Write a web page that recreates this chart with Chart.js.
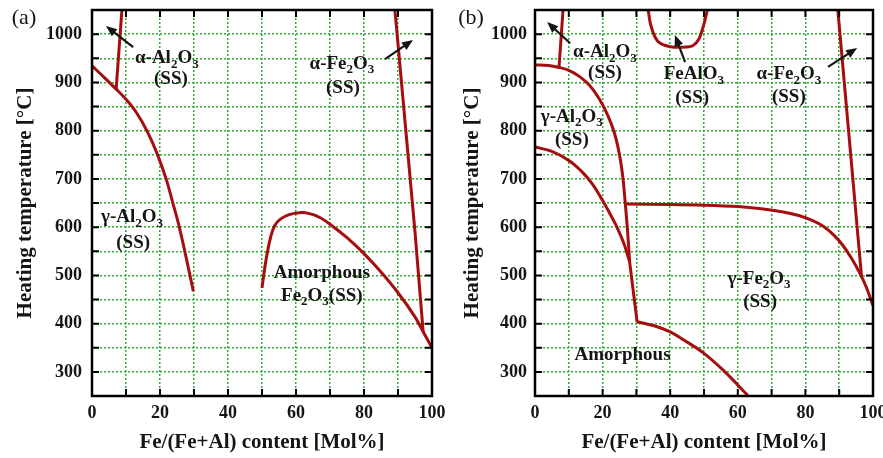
<!DOCTYPE html>
<html>
<head>
<meta charset="utf-8">
<script src="https://cdn.jsdelivr.net/npm/chart.js@4.4.0/dist/chart.umd.min.js"></script>
<style>
  html, body { margin: 0; padding: 0; background: #fff; }
  #wrap { position: relative; width: 883px; height: 458px; overflow: hidden; }
  canvas { position: absolute; top: 0; }
</style>
</head>
<body>
<div id="wrap">
  <canvas id="chartA" width="462" height="458" style="left:0"></canvas>
  <canvas id="chartB" width="442" height="458" style="left:441px"></canvas>
</div>
<script>
// tick labels
var xTickLabels = [0, 20, 40, 60, 80, 100];
var yTickLabels = [300, 400, 500, 600, 700, 800, 900, 1000];

// ---- panel (a) phase boundaries: Fe content [mol%] / temperature [C]
var aGammaAlX = [0, 3.5, 7.1, 10, 13, 16.2, 19, 21.8, 23.7, 25.5, 27.6, 29.8];
var aGammaAlT = [934, 911, 886, 865, 838, 799, 755, 700, 652, 605, 540, 467];
var aAlphaAlX = [7.1, 8.8];
var aAlphaAlT = [886, 1050];
var aDomeX = [50, 50.7, 51.5, 52.5, 53.7, 55.5, 58, 61, 64, 67, 70, 75, 80, 85, 90, 95, 97.4, 100];
var aDomeT = [474, 510, 545, 578, 603, 617, 626, 630, 628, 620, 606, 578, 545, 507, 464, 414, 383, 350];
var aAlphaFeX = [89.1, 95, 97.4];
var aAlphaFeT = [1050, 590, 383];

// ---- panel (b)
var bUpperX = [0, 4, 7.1, 10, 13, 16, 19, 21.5, 23.5, 25, 26, 26.7, 27.3, 28];
var bUpperT = [936, 935, 931, 925, 913, 895, 866, 832, 795, 750, 703, 650, 600, 528];
var bLowerX = [0, 5, 10, 14, 17, 20, 22.3, 24.3, 26.3, 28];
var bLowerT = [766, 757, 738, 714, 689, 655, 626, 599, 566, 528];
var bDropX = [28, 30.2];
var bDropT = [528, 404];
var bAmorphX = [30.2, 35, 40, 43.8, 49.7, 55.6, 62.7, 63.3];
var bAmorphT = [404, 396, 383, 367, 340, 304, 253, 248];
var bPlateauX = [26.7, 40, 50, 60, 67, 73, 78, 82, 85.5, 88.5, 91, 93.5, 96, 98, 100];
var bPlateauT = [648, 647, 645.5, 642.5, 638, 632, 624, 614, 601, 583, 563, 537, 506, 476, 437];
var bAlphaFeX = [89.6, 96.6];
var bAlphaFeT = [1050, 498];
var bAlphaAlX = [7.1, 8.3];
var bAlphaAlT = [931, 1050];
var bFeAlX = [33.5, 34.2, 35.5, 37, 40, 44, 46.7, 48.5, 49.7, 50.5, 51];
var bFeAlT = [1050, 1020, 994, 981, 974, 973, 976, 990, 1014, 1035, 1050];

var SERIF = '"Liberation Serif", "Times New Roman", serif';
var RED = '#a50e0e';
var GREEN = 'rgb(45,172,45)';

function curve(xs, ts, smooth) {
  return {
    data: xs.map(function (x, i) { return { x: x, y: ts[i] }; }),
    showLine: true,
    borderColor: RED,
    borderWidth: 3,
    pointRadius: 0,
    fill: false,
    tension: smooth ? 0.35 : 0
  };
}

// labels and arrows, given in data units
var notesA = [
  { text: 'α-Al_2O_3', x: 22, y: 950 }, { text: '(SS)', x: 23.2, y: 907 },
  { text: 'α-Fe_2O_3', x: 73.5, y: 938 }, { text: '(SS)', x: 73.8, y: 888 },
  { text: 'γ-Al_2O_3', x: 11.8, y: 620 }, { text: '(SS)', x: 12.1, y: 567 },
  { text: 'Amorphous', x: 67.6, y: 505 }, { text: 'Fe_2O_3(SS)', x: 67.6, y: 457 }
];
var arrowsA = [[12.1, 973, 4.1, 1017], [86.2, 948, 94.4, 988]];

var notesB = [
  { text: 'α-Al_2O_3', x: 20.7, y: 962 }, { text: '(SS)', x: 20.7, y: 919 },
  { text: 'γ-Al_2O_3', x: 10.9, y: 828 }, { text: '(SS)', x: 10.9, y: 781 },
  { text: 'FeAlO_3', x: 47, y: 917 }, { text: '(SS)', x: 46.5, y: 867 },
  { text: 'α-Fe_2O_3', x: 75.1, y: 917 }, { text: '(SS)', x: 75.1, y: 870 },
  { text: 'γ-Fe_2O_3', x: 66.3, y: 493 }, { text: '(SS)', x: 66.6, y: 445 },
  { text: 'Amorphous', x: 25.9, y: 335 }
];
var arrowsB = [[10.4, 981, 3.6, 1025], [44.4, 942, 41.4, 998], [86.7, 932, 95.3, 971]];

function drawRich(ctx, text, cx, cy) {
  var parts = text.split(/_(\d)/);
  var big = 'bold 19px ' + SERIF, small = 'bold 13px ' + SERIF;
  var w = 0;
  parts.forEach(function (p, i) { ctx.font = i % 2 ? small : big; w += ctx.measureText(p).width; });
  var x = cx - w / 2;
  ctx.textAlign = 'left';
  ctx.textBaseline = 'middle';
  ctx.fillStyle = '#151515';
  parts.forEach(function (p, i) {
    ctx.font = i % 2 ? small : big;
    ctx.fillText(p, x, i % 2 ? cy + 6 : cy);
    x += ctx.measureText(p).width;
  });
}

function drawArrow(ctx, x0, y0, x1, y1) {
  var a = Math.atan2(y1 - y0, x1 - x0), L = 11, W = 4.5;
  ctx.strokeStyle = '#151515';
  ctx.fillStyle = '#151515';
  ctx.lineWidth = 2.2;
  ctx.beginPath();
  ctx.moveTo(x0, y0);
  ctx.lineTo(x1 - L * 0.8 * Math.cos(a), y1 - L * 0.8 * Math.sin(a));
  ctx.stroke();
  ctx.beginPath();
  ctx.moveTo(x1, y1);
  ctx.lineTo(x1 - L * Math.cos(a) + W * Math.sin(a), y1 - L * Math.sin(a) - W * Math.cos(a));
  ctx.lineTo(x1 - L * Math.cos(a) - W * Math.sin(a), y1 - L * Math.sin(a) + W * Math.cos(a));
  ctx.closePath();
  ctx.fill();
}

// frame, inward ticks, labels, arrows
var decor = {
  id: 'decor',
  afterDatasetsDraw: function (chart, args, opts) {
    var ctx = chart.ctx, a = chart.chartArea;
    var xs = chart.scales.x, ys = chart.scales.y;
    ctx.save();
    ctx.strokeStyle = '#000';
    ctx.lineWidth = 2;
    xs.ticks.forEach(function (t) {
      var px = xs.getPixelForValue(t.value);
      ctx.beginPath();
      ctx.moveTo(px, a.bottom); ctx.lineTo(px, a.bottom - 7);
      ctx.moveTo(px, a.top); ctx.lineTo(px, a.top + 7);
      ctx.stroke();
    });
    ys.ticks.forEach(function (t) {
      var py = ys.getPixelForValue(t.value);
      ctx.beginPath();
      ctx.moveTo(a.left, py); ctx.lineTo(a.left + 7, py);
      ctx.moveTo(a.right, py); ctx.lineTo(a.right - 7, py);
      ctx.stroke();
    });
    ctx.lineWidth = 2.5;
    ctx.strokeRect(a.left, a.top, a.right - a.left, a.bottom - a.top);

    opts.notes.forEach(function (n) {
      drawRich(ctx, n.text, xs.getPixelForValue(n.x), ys.getPixelForValue(n.y));
    });
    opts.arrows.forEach(function (r) {
      drawArrow(ctx, xs.getPixelForValue(r[0]), ys.getPixelForValue(r[1]),
        xs.getPixelForValue(r[2]), ys.getPixelForValue(r[3]));
    });

    ctx.font = '22px ' + SERIF;
    ctx.fillStyle = '#151515';
    ctx.textAlign = 'center';
    ctx.textBaseline = 'middle';
    ctx.fillText(opts.tag, opts.tagX, 18);
    ctx.restore();
  }
};

function makeChart(id, datasets, cfg) {
  return new Chart(document.getElementById(id), {
    type: 'scatter',
    data: { datasets: datasets },
    plugins: [decor],
    options: {
      responsive: false,
      animation: false,
      layout: { padding: { top: 10, right: cfg.padRight, left: 0, bottom: 0 } },
      plugins: {
        legend: { display: false },
        tooltip: { enabled: false },
        decor: { notes: cfg.notes, arrows: cfg.arrows, tag: cfg.tag, tagX: cfg.tagX }
      },
      scales: {
        x: {
          type: 'linear', min: 0, max: 100,
          afterFit: function (s) { s.height = 62; s.paddingLeft = 0; s.paddingRight = 0; },
          ticks: {
            stepSize: 10, autoSkip: false, maxRotation: 0, padding: 7, color: '#151515',
            font: { family: SERIF, size: 18, weight: 'bold' },
            callback: function (v) { return xTickLabels.indexOf(v) >= 0 ? v : ''; }
          },
          grid: { color: GREEN, lineWidth: 1.5, drawTicks: false },
          border: { display: false, dash: [2, 2] },
          title: {
            display: true, text: 'Fe/(Fe+Al) content [Mol%]', color: '#151515',
            font: { family: SERIF, size: 21, weight: 'bold' },
            padding: { top: 0, bottom: 3 }
          }
        },
        y: {
          type: 'linear', min: 250, max: 1050,
          afterFit: function (s) { s.width = cfg.yWidth; s.paddingTop = 0; s.paddingBottom = 0; },
          ticks: {
            stepSize: 50, autoSkip: false, padding: cfg.yPad, color: '#151515',
            font: { family: SERIF, size: 18, weight: 'bold' },
            callback: function (v) { return yTickLabels.indexOf(v) >= 0 ? v : ''; }
          },
          grid: { color: GREEN, lineWidth: 1.5, drawTicks: false },
          border: { display: false, dash: [2, 2] },
          title: {
            display: true, text: 'Heating temperature [°C]', color: '#151515',
            font: { family: SERIF, size: 21, weight: 'bold' },
            padding: { top: cfg.titlePad, bottom: 0 }
          }
        }
      }
    }
  });
}

makeChart('chartA', [
  curve(aGammaAlX, aGammaAlT, true),
  curve(aAlphaAlX, aAlphaAlT, false),
  curve(aDomeX, aDomeT, true),
  curve(aAlphaFeX, aAlphaFeT, false)
], { padRight: 30, yWidth: 92, yPad: 10, titlePad: 13, notes: notesA, arrows: arrowsA, tag: '(a)', tagX: 24 });

makeChart('chartB', [
  curve(bUpperX, bUpperT, true),
  curve(bLowerX, bLowerT, true),
  curve(bDropX, bDropT, false),
  curve(bAmorphX, bAmorphT, true),
  curve(bPlateauX, bPlateauT, true),
  curve(bAlphaFeX, bAlphaFeT, false),
  curve(bAlphaAlX, bAlphaAlT, false),
  curve(bFeAlX, bFeAlT, true)
], { padRight: 10, yWidth: 94, yPad: 8, titlePad: 19, notes: notesB, arrows: arrowsB, tag: '(b)', tagX: 30 });
</script>
</body>
</html>
